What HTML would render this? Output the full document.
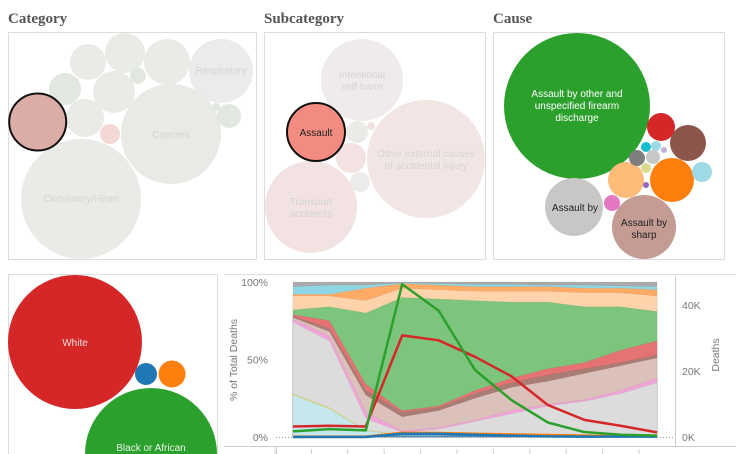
<!DOCTYPE html>
<html><head><meta charset="utf-8"><style>
html,body{margin:0;background:#fff;width:736px;height:454px;overflow:hidden;font-family:"Liberation Sans",sans-serif}
svg{position:absolute;left:0;top:0;overflow:hidden;display:block}
.ttl{font-family:"Liberation Serif",serif;font-weight:bold;font-size:15px;fill:#555}
.lbl{font-size:10px;fill:#d4d4d4;text-anchor:middle}
.ax{font-size:10.5px;fill:#777}
</style></head><body>
<svg id="s" width="736" height="454" viewBox="0 0 736 454">
<text class="ttl" x="8" y="23">Category</text>
<text class="ttl" x="264" y="23">Subcategory</text>
<text class="ttl" x="493" y="23">Cause</text>
<rect x="8.5" y="32.5" width="248" height="227" fill="none" stroke="#ddd"/>
<rect x="264.5" y="32.5" width="221" height="227" fill="none" stroke="#ddd"/>
<rect x="493.5" y="32.5" width="231" height="227" fill="none" stroke="#ddd"/>
<path d="M8.5,454 V274.5 H217.5 V454" fill="none" stroke="#ddd"/>
<line x1="224" y1="274.5" x2="736" y2="274.5" stroke="#ddd"/>
<g id="cat">
<circle cx="81" cy="199" r="60" fill="#e9ebe7"/>
<circle cx="171" cy="134" r="50" fill="#e7eae5"/>
<circle cx="221" cy="71" r="32" fill="#ebebea"/>
<circle cx="88" cy="62" r="18" fill="#e9ebe7"/>
<circle cx="125" cy="53" r="20" fill="#e9ebe7"/>
<circle cx="167" cy="62" r="23" fill="#e9ebe7"/>
<circle cx="114" cy="92" r="21" fill="#e9ebe7"/>
<circle cx="65" cy="89" r="16" fill="#e2e8e0"/>
<circle cx="85" cy="118" r="19" fill="#e9ebe7"/>
<circle cx="138" cy="76" r="8" fill="#e2e8e0"/>
<circle cx="110" cy="134" r="10" fill="#f4d8d6"/>
<circle cx="229" cy="116" r="12" fill="#e2e8e0"/>
<circle cx="216" cy="107" r="4" fill="#e2e8e0"/>
<circle cx="37.7" cy="122" r="28.5" fill="#dcaca7" stroke="#111" stroke-width="2"/>
<text class="lbl" x="81" y="202">Circulatory/Heart</text>
<text class="lbl" x="171" y="138">Cancers</text>
<text class="lbl" x="221" y="74">Respiratory</text>
</g>
<g>
<circle cx="362" cy="80" r="41" fill="#efebea"/>
<circle cx="426" cy="159" r="59" fill="#f2e6e5"/>
<circle cx="311" cy="207" r="46" fill="#f2e3e2"/>
<circle cx="357" cy="132" r="11" fill="#e9ebe7"/>
<circle cx="351" cy="158" r="15" fill="#f2e3e2"/>
<circle cx="360" cy="182" r="10" fill="#ebebea"/>
<circle cx="371" cy="126" r="4" fill="#f2e3e2"/>
<circle cx="316" cy="132" r="29" fill="#f28b80" stroke="#111" stroke-width="2"/>
<text class="lbl" x="362" y="78">Intentional</text>
<text class="lbl" x="362" y="90">self-harm</text>
<text class="lbl" x="426" y="157">Other external causes</text>
<text class="lbl" x="426" y="169">of accidental injury</text>
<text class="lbl" x="311" y="205">Transport</text>
<text class="lbl" x="311" y="217">accidents</text>
<text x="316" y="136" font-size="10" fill="#222" text-anchor="middle">Assault</text>
</g>
<g>
<circle cx="577" cy="106" r="73" fill="#2ca02c"/>
<circle cx="574" cy="207" r="29" fill="#c7c7c7"/>
<circle cx="644" cy="227" r="32" fill="#c49c94"/>
<circle cx="672" cy="180" r="22" fill="#ff7f0e"/>
<circle cx="626" cy="180" r="18" fill="#ffbb78"/>
<circle cx="661" cy="127" r="14" fill="#d62728"/>
<circle cx="688" cy="143" r="18" fill="#8c564b"/>
<circle cx="702" cy="172" r="10" fill="#9edae5"/>
<circle cx="612" cy="203" r="8" fill="#e377c2"/>
<circle cx="637" cy="158" r="8" fill="#7f7f7f"/>
<circle cx="653" cy="157" r="7" fill="#c7c7c7"/>
<circle cx="646" cy="147" r="5" fill="#17becf"/>
<circle cx="656" cy="146" r="5" fill="#9edae5"/>
<circle cx="646" cy="168" r="5" fill="#dbdb8d"/>
<circle cx="646" cy="185" r="3" fill="#9467bd"/>
<circle cx="664" cy="150" r="3" fill="#c5b0d5"/>
<text x="577" y="97" font-size="10" fill="#fff" text-anchor="middle">Assault by other and</text>
<text x="577" y="109" font-size="10" fill="#fff" text-anchor="middle">unspecified firearm</text>
<text x="577" y="121" font-size="10" fill="#fff" text-anchor="middle">discharge</text>
<text x="575" y="211" font-size="10" fill="#222" text-anchor="middle">Assault by</text>
<text x="644" y="226" font-size="10" fill="#222" text-anchor="middle">Assault by</text>
<text x="644" y="238" font-size="10" fill="#222" text-anchor="middle">sharp</text>
</g>
<g>
<circle cx="75" cy="342" r="67" fill="#d62728"/>
<circle cx="146" cy="374" r="11" fill="#1f77b4"/>
<circle cx="172" cy="374" r="13.5" fill="#ff7f0e"/>
<path d="M85,454 A66,66 0 0 1 217,454 Z" fill="#2ca02c"/>
<text x="75" y="346" font-size="10" fill="#f4dede" text-anchor="middle">White</text>
<text x="151" y="451" font-size="10" fill="#e8f4e8" text-anchor="middle">Black or African</text>
</g>
<g id="chart"></g>
</svg>
<script>
const years=["1999","2000","2001","2002","2003","2004","2005","2006","2007","2008","2009"];
const layerNames=["blue","cyan","olive","gray","pink","lightbrown","darkbrown","red","green","lightorange","orange","lightblue","topgray"];
const layerColors=["#4a90c4","#c5e8ee","#dbdb8d","#dcdcdc","#f0a4d8","#dcc0ba","#a97d76","#e57373","#7dc47d","#ffd3ab","#ffab66","#8fd6e4","#aaaaaa"];
const cumTops=[
[0.5,0.5,0.5,1,1,1,0.8,0.6,0.5,0.5,0.5],
[27,18,4,1.2,1.2,1.2,1,1,1,1,1],
[28,19,4.5,1.4,1.4,1.4,1.2,1.2,1.2,1.2,1.2],
[74,62,12,3,5,10,15,20,23,28,35],
[76,65,16,4,6,11,17,21,24,30,38],
[77,68,27,13,17,25,32,36,41,46,51],
[78,70,30,16,19,28,35,40,44,48,53],
[79,75,34,17,20,30,38,44,48,56,62],
[82,84,80,90,89,88,87,87,84,84,81],
[91,91,88,96,95,94,94,94,93,93,91],
[92,92,96,99,98,97,97,97,96,96,95],
[97,98,98,99.5,99,98.5,98.5,98,98,97.5,97],
[100,100,100,100,100,100,100,100,100,100,100]];
const deathsGreen=[1.7,2.4,2.0,46.3,38.3,20.3,11.2,4.4,1.5,0.7,0.4];
const deathsRed=[3.2,3.4,3.2,30.8,29.3,24.3,18.4,9.7,5.2,3.4,1.4];
const deathsOrange=[0.1,0.1,0.1,1.3,1.2,1.0,0.8,0.6,0.4,0.3,0.2];
const deathsBlue=[0,0,0,1.0,1.0,0.7,0.4,0.2,0.1,0.1,0.1];
const pctTicks=[0,50,100];
const kTicks=[0,20,40];
const X0=293,X1=657,Y0=437,Y100=282;
const xs=i=>X0+(X1-X0)*i/(years.length-1);
const yp=p=>Y0-(Y0-Y100)*p/100;
const yk=k=>Y0-k*(132/40);
const NS="http://www.w3.org/2000/svg";
const g=document.getElementById('chart');
function mk(t,a,p){const e=document.createElementNS(NS,t);for(const k in a)e.setAttribute(k,a[k]);(p||g).appendChild(e);return e;}
mk('line',{x1:276.5,y1:446,x2:276.5,y2:454,stroke:'#ccc'});
mk('line',{x1:675.5,y1:276,x2:675.5,y2:446,stroke:'#ccc'});
mk('line',{x1:224,y1:446.5,x2:736,y2:446.5,stroke:'#ccc'});
for(let L=cumTops.length-1;L>=0;L--){
  const top=cumTops[L];
  let d='M'+xs(0)+','+yp(top[0]);
  for(let i=1;i<years.length;i++)d+='L'+xs(i)+','+yp(top[i]);
  d+='L'+xs(years.length-1)+','+Y0+'L'+xs(0)+','+Y0+'Z';
  const e=mk('path',{d:d,fill:layerColors[L],stroke:'rgba(0,0,0,0.08)','stroke-width':0.5});
  
  
}
const z=mk('line',{x1:276,y1:437.5,x2:675,y2:437.5,stroke:'#999','stroke-dasharray':'1,2'});


function line(arr,col,name){
  const pts=arr.map((v,i)=>xs(i)+','+yk(v)).join(' ');
  const e=mk('polyline',{points:pts,fill:'none',stroke:col,'stroke-width':2.5,'stroke-linejoin':'round'});
  
  
}
line(deathsOrange,'#ff7f0e','line-orange');
line(deathsBlue,'#1f77b4','line-blue');
line(deathsRed,'#d62728','line-red');
line(deathsGreen,'#2ca02c','line-green');
pctTicks.forEach(p=>{
  const t=mk('text',{x:268,y:yp(p)+4,'text-anchor':'end',class:'ax'});t.textContent=p+'%';
  
  
});
kTicks.forEach(k=>{
  const t=mk('text',{x:682,y:yk(k)+4,class:'ax'});t.textContent=k+'K';
  
  
});
years.forEach((yr,i)=>{
  mk('line',{x1:xs(i)-18,y1:449,x2:xs(i)-18,y2:454,stroke:'#ccc'});
  const t=mk('text',{x:0,y:0,class:'ax','font-size':'9',transform:'translate('+(xs(i)+3)+',460) rotate(-90)','text-anchor':'end'});
  t.textContent=yr;
  
  
});
const a1=mk('text',{x:0,y:0,class:'ax',transform:'translate(237,360) rotate(-90)','text-anchor':'middle'});a1.textContent='% of Total Deaths';


const a2=mk('text',{x:0,y:0,class:'ax',transform:'translate(719,355) rotate(-90)','text-anchor':'middle'});a2.textContent='Deaths';


</script>
</body></html>
